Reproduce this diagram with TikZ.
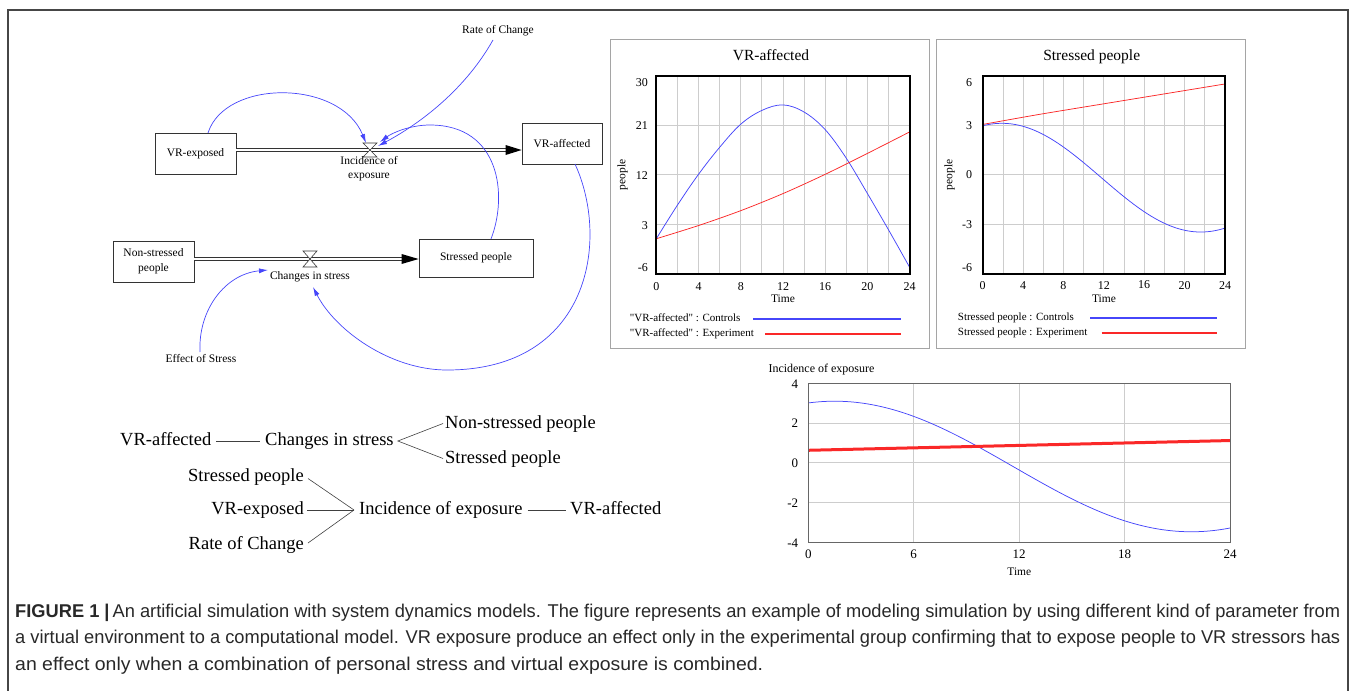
\documentclass[tikz,border=0pt]{standalone}
\usepackage{fontspec}
\setmainfont{Liberation Serif}
\newfontfamily\capfont{Liberation Sans}
\usetikzlibrary{arrows.meta}
\definecolor{lnblue}{RGB}{70,70,250}
\definecolor{lnred}{RGB}{250,40,40}
\definecolor{grd}{RGB}{205,205,205}
\definecolor{frm}{RGB}{165,165,165}
\definecolor{outerc}{RGB}{70,70,70}
\definecolor{capc}{RGB}{40,40,40}
\tikzset{
  stockbox/.style={draw=black!80, line width=0.8pt, fill=white, inner sep=0pt, align=center, font=\fontsize{11.5}{15}\selectfont},
  sflab/.style={inner sep=0pt, align=center, font=\fontsize{11.5}{15}\selectfont},
  pipe/.style={draw=black!80, double=white, double distance=2.2pt, line width=0.6pt},
  valvest/.style={draw=black!80, line width=0.6pt, fill=white},
  link/.style={draw=lnblue, line width=0.7pt, -{Latex[length=9pt,width=5pt]}},
  cframe/.style={draw=frm, line width=1pt},
  grdl/.style={draw=grd, line width=0.8pt},
  tick/.style={inner sep=0pt, font=\fontsize{12}{14}\selectfont},
  tickc/.style={inner sep=0pt, font=\fontsize{13}{15}\selectfont},
  axlab/.style={inner sep=0pt, font=\fontsize{11.5}{14}\selectfont},
  ctitle/.style={inner sep=0pt, font=\fontsize{15.5}{18}\selectfont},
  leg/.style={inner sep=0pt, anchor=mid west, font=\fontsize{11}{13}\selectfont},
  bcurve/.style={draw=lnblue, line width=0.75pt},
  rcurve/.style={draw=lnred, line width=0.75pt},
  legb/.style={draw=lnblue, line width=1.4pt},
  legr/.style={draw=lnred, line width=1.4pt},
  tree/.style={inner sep=0pt, font=\fontsize{18.5}{22}\selectfont},
  treel/.style={draw=black!75, line width=0.6pt},
  capline/.style={inner sep=0pt, anchor=base west, text=capc, font=\capfont\fontsize{18.5}{22}\selectfont}
}
\begin{document}
\begin{tikzpicture}[x=1pt,y=-1pt]
\useasboundingbox (0,0) rectangle (1358,691);
% outer frame
\draw[outerc, line width=1.4pt] (8,691) -- (8,10) -- (1348,10) -- (1348,691);

% ================= stock and flow diagram =================
\node[stockbox, minimum width=81pt, minimum height=41pt] (vrexp) at (195.5,153.5) {VR-exposed};
\node[stockbox, minimum width=80pt, minimum height=41pt] (vraff) at (562,143.5) {VR-affected};
\node[stockbox, minimum width=81pt, minimum height=41pt] (nons) at (153.5,261.5) {Non-stressed\\people};
\node[stockbox, minimum width=114pt, minimum height=38pt] (strp) at (476,258) {Stressed people};
\coordinate (v1) at (370,150);
\coordinate (v2) at (310,259);
% pipes
\draw[pipe, shorten >=15pt] (vrexp.east |- v1) -- (vraff.west |- v1);
\fill[black] (vraff.west |- v1) -- ++(-16,-5) -- ++(0,10) -- cycle;
\draw[pipe, shorten >=17pt] (nons.east |- v2) -- (strp.west |- v2);
\fill[black] (strp.west |- v2) -- ++(-17,-5) -- ++(0,10) -- cycle;
% valves
\draw[valvest] (363,143) -- (377,143) -- (363,157) -- (377,157) -- cycle;
\draw[valvest] (303,251) -- (317,251) -- (303,267) -- (317,267) -- cycle;
% labels
\node[sflab] (incl) at (369,168.5) {Incidence of\\[-0.5pt]exposure};
\node[sflab, anchor=mid] (chgl) at (310,277) {Changes in stress};
\node[sflab, anchor=mid] (rate) at (498,31) {Rate of Change};
\node[sflab, anchor=mid] (effs) at (201,360) {Effect of Stress};
% links
\coordinate (a1s) at (208,133);
\coordinate (a1e) at (366,143);
\draw[link] (a1s) .. controls (225,79) and (340,79) .. (a1e);
\coordinate (a2s) at (493,40);
\coordinate (a2e) at (378,146);
\draw[link] (a2s) .. controls (462,95) and (412,128) .. (a2e);
\coordinate (a3s) at (491,239);
\coordinate (a3m) at (430,125);
\coordinate (a3e) at (380,142);
\draw[link] (a3s) .. controls (508,195) and (500,125) .. (a3m) .. controls (410,125) and (392,133) .. (a3e);
\coordinate (a4s) at (575,164);
\coordinate (a4m) at (447,370);
\coordinate (a4e) at (313,287);
\draw[link] (a4s) .. controls (610,240) and (590,370) .. (a4m) .. controls (390,370) and (335,330) .. (a4e);
\coordinate (a5s) at (200,352);
\coordinate (a5e) at (268,270);
\draw[link] (a5s) .. controls (198,310) and (225,274) .. (a5e);

% ================= chart 1: VR-affected =================
\draw[cframe] (610.7,39.7) rectangle (929.7,348.7);
\node[ctitle, anchor=mid] (t1) at (771,58.7) {VR-affected};
\begin{scope}[shift={(656.3,240.95)}, x=10.558pt, y=5.508pt]
  \foreach \t in {2,4,...,22} \draw[grdl] (\t,-6) -- (\t,30);
  \foreach \v in {3,12,21} \draw[grdl] (0,\v) -- (24,\v);
  \draw[bcurve] plot[smooth, tension=0.6] coordinates {(0,0.4) (2,6.5) (4,12.1) (6,17) (8,21.2) (10,23.7) (12,24.7) (14,23.4) (16,20.2) (18,15) (20,8.6) (22,2) (24,-4.8)};
  \draw[rcurve] plot[smooth] coordinates {(0,0.4) (4,2.8) (8,5.5) (12,8.6) (16,12.1) (20,15.9) (24,19.8)};
  \draw[black, line width=1.8pt] (0,-6) rectangle (24,30);
  \foreach \t in {0,4,...,24} \node[tick] (c1x\t) at (\t,-8.2) {\t};
\end{scope}
\node[tick, anchor=east] (c1y1) at (648,83) {30};
\node[tick, anchor=east] (c1y2) at (648,125.3) {21};
\node[tick, anchor=east] (c1y3) at (648,175.3) {12};
\node[tick, anchor=east] (c1y4) at (648,225.3) {3};
\node[tick, anchor=east] (c1y5) at (648,268) {-6};
\node[axlab, anchor=mid] (c1time) at (783,300.3) {Time};
\node[axlab, rotate=90, anchor=mid] (c1ppl) at (623,174.7) {people};
\node[leg] (c1l1) at (629.7,319.3) {\textquotedbl VR-affected\textquotedbl\ : Controls};
\node[leg] (c1l2) at (629.7,333.7) {\textquotedbl VR-affected\textquotedbl\ : Experiment};
\coordinate (c1b1) at (753,319);
\coordinate (c1b2) at (901,319);
\coordinate (c1r1) at (765,334);
\coordinate (c1r2) at (901,334);
\draw[legb] (c1b1) -- (c1b2);
\draw[legr] (c1r1) -- (c1r2);

% ================= chart 2: Stressed people =================
\draw[cframe] (936.7,39.7) rectangle (1245,348.7);
\node[ctitle, anchor=mid] (t2) at (1091.7,58.7) {Stressed people};
\begin{scope}[shift={(982.7,174.85)}, x=10.096pt, y=16.525pt]
  \foreach \t in {2,4,...,22} \draw[grdl] (\t,-6) -- (\t,6);
  \foreach \v in {-3,0,3} \draw[grdl] (0,\v) -- (24,\v);
  \draw[rcurve] plot[smooth] coordinates {(0,3.05) (2,3.27) (6,3.7) (12,4.3) (18,4.9) (24,5.5)};
  \draw[bcurve] plot[domain=0:24, samples=80, smooth] (\x, {-0.17+3.29*cos(180*(\x-1.9)/19.7)});
  \draw[black, line width=1.8pt] (0,-6) rectangle (24,6);
  \foreach \t in {0,4,...,24} \node[tick] (c2x\t) at (\t,-6.67) {\t};
\end{scope}
\node[tick, anchor=east] (c2y1) at (972.3,83) {6};
\node[tick, anchor=east] (c2y2) at (972.3,125.3) {3};
\node[tick, anchor=east] (c2y3) at (972.3,174.7) {0};
\node[tick, anchor=east] (c2y4) at (972.3,224.7) {-3};
\node[tick, anchor=east] (c2y5) at (972.3,268) {-6};
\node[axlab, anchor=mid] (c2time) at (1104,299.7) {Time};
\node[axlab, rotate=90, anchor=mid] (c2ppl) at (950,174.7) {people};
\node[leg] (c2l1) at (957.7,318.3) {Stressed people : Controls};
\node[leg] (c2l2) at (957.7,333.3) {Stressed people : Experiment};
\draw[legb] (1090,318) -- (1216.7,318);
\draw[legr] (1101.7,333) -- (1216.7,333);

% ================= chart 3: Incidence of exposure =================
\node[axlab, anchor=mid west, font=\fontsize{12}{14}\selectfont] (c3t) at (768.3,370) {Incidence of exposure};
\begin{scope}[shift={(808.3,462.8)}, x=17.571pt, y=19.875pt]
  \foreach \t in {6,12,18} \draw[grdl] (\t,-4) -- (\t,4);
  \foreach \v in {-2,0,2} \draw[grdl] (0,\v) -- (24,\v);
  \draw[bcurve] plot[domain=0:24, samples=80, smooth] (\x, {-0.185+3.285*cos(180*(\x-1.5)/20.3)});
  \draw[draw=lnred, line width=3pt] (0,0.63) -- (24,1.12);
  \draw[draw=black!60, line width=0.9pt] (0,-4) rectangle (24,4);
  \foreach \t in {0,6,12,18,24} \node[tickc] (c3x\t) at (\t,-4.6) {\t};
\end{scope}
\node[tickc, anchor=east] (c3y1) at (798.3,384) {4};
\node[tickc, anchor=east] (c3y2) at (798.3,423.3) {2};
\node[tickc, anchor=east] (c3y3) at (798.3,463.3) {0};
\node[tickc, anchor=east] (c3y4) at (798.3,503.3) {-2};
\node[tickc, anchor=east] (c3y5) at (798.3,543.3) {-4};
\node[axlab, anchor=mid] (c3time) at (1019.3,573.3) {Time};

% ================= tree text =================
\node[tree, anchor=mid west] (r1a) at (120,443.5) {VR-affected};
\node[tree, anchor=mid west] (r1b) at (265,443.5) {Changes in stress};
\node[tree, anchor=mid west] (r1c) at (445,426) {Non-stressed people};
\node[tree, anchor=mid west] (r1d) at (445,461) {Stressed people};
\draw[treel] ([shift={(5pt,2.5pt)}]r1a.mid east) -- ([shift={(-5pt,2.5pt)}]r1b.mid west);
\coordinate (f1) at ([shift={(4pt,2.5pt)}]r1b.mid east);
\draw[treel] ([shift={(-2pt,2.5pt)}]r1c.mid west) -- (f1) -- ([shift={(-2pt,2.5pt)}]r1d.mid west);
\node[tree, anchor=mid east] (r2a) at (304,479) {Stressed people};
\node[tree, anchor=mid east] (r2b) at (304,512.5) {VR-exposed};
\node[tree, anchor=mid east] (r2c) at (304,547.5) {Rate of Change};
\node[tree, anchor=mid west] (r2d) at (359,512.5) {Incidence of exposure};
\node[tree, anchor=mid west] (r2e) at (570,512.5) {VR-affected};
\coordinate (f2) at ([shift={(-5pt,2.5pt)}]r2d.mid west);
\draw[treel] ([shift={(4pt,0.5pt)}]r2a.mid east) -- (f2);
\draw[treel] ([shift={(3pt,2.5pt)}]r2b.mid east) -- (f2);
\draw[treel] ([shift={(4pt,4.5pt)}]r2c.mid east) -- (f2);
\draw[treel] ([shift={(5pt,2.5pt)}]r2d.mid east) -- ([shift={(-4pt,2.5pt)}]r2e.mid west);

% ================= caption =================
\node[capline] (cap1) at (15,617) {\resizebox{1325pt}{\height}{\textbf{FIGURE 1 |}\,An artificial simulation with system dynamics models. The figure represents an example of modeling simulation by using different kind of parameter from}};
\node[capline] (cap2) at (15,643.5) {\resizebox{1325pt}{\height}{a virtual environment to a computational model. VR exposure produce an effect only in the experimental group confirming that to expose people to VR stressors has}};
\node[capline] (cap3) at (15,670) {\resizebox{748pt}{\height}{an effect only when a combination of personal stress and virtual exposure is combined.}};
\end{tikzpicture}
\end{document}
